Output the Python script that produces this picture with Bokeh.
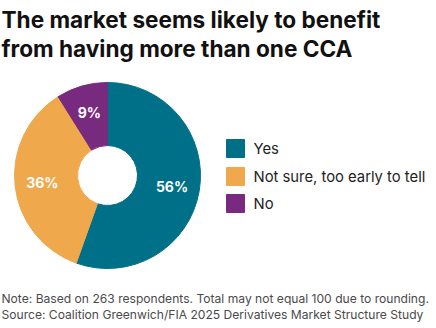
import numpy as np
from bokeh.plotting import figure
from bokeh.models import Range1d, ColumnDataSource
from bokeh.core.properties import value
from bokeh.embed import file_html
from bokeh.resources import INLINE

categories = ["Yes", "Not sure, too early to tell", "No"]
shares = [56, 36, 9]
colors = ["#006f88", "#f0a84c", "#782a7e"]
title_lines = ["The market seems likely to benefit", "from having more than one CCA"]
notes = ["Note: Based on 263 respondents. Total may not equal 100 due to rounding.",
         "Source: Coalition Greenwich/FIA 2025 Derivatives Market Structure Study"]

W, H = 436, 328
FONT = "Inter"

p = figure(width=W, height=H, output_backend="svg", toolbar_location=None,
           x_range=Range1d(0, W), y_range=Range1d(0, H), min_border=0,
           outline_line_color=None, background_fill_color="white")
p.axis.visible = False
p.grid.visible = False

cx, cy = 107, H - 175
r_out, r_in = 93, 30
vals = np.array(shares, dtype=float)
frac = vals / vals.sum()
cum = np.concatenate([[0], np.cumsum(frac)])
start = np.pi / 2 - cum[1:] * 2 * np.pi
end = np.pi / 2 - cum[:-1] * 2 * np.pi
mid = (start + end) / 2
lr = (r_out + r_in) / 2 + 4
src = ColumnDataSource(dict(start=start, end=end, color=colors,
                            lx=cx + lr * np.cos(mid), ly=cy + lr * np.sin(mid),
                            lab=[f"{v}%" for v in shares]))
p.annular_wedge(x=cx, y=cy, inner_radius=r_in, outer_radius=r_out,
                start_angle="start", end_angle="end", color="color",
                line_color="color", source=src)
p.text(x="lx", y="ly", text="lab", source=src, text_color="white",
       text_font=value(FONT), text_font_style="bold", text_font_size="14px",
       text_align="center", text_baseline="middle")

# legend
ly = [H - 148, H - 176, H - 203]
lsrc = ColumnDataSource(dict(y=ly, color=colors, cat=categories))
p.rect(x=235, y="y", width=18, height=18, color="color", source=lsrc)
p.text(x=253, y="y", text="cat", source=lsrc, text_color="#222222",
       text_font=value(FONT), text_font_size="14.8px",
       text_align="left", text_baseline="middle")

# title
p.text(x=[1, 1], y=[H - 19, H - 48], text=title_lines, text_color="#111111",
       text_font=value(FONT), text_font_style="bold", text_font_size="22.6px",
       text_align="left", text_baseline="middle")

# notes
p.text(x=[1, 1], y=[H - 298, H - 314], text=notes, text_color="#4a4a4a",
       text_font=value(FONT), text_font_size="12.1px",
       text_align="left", text_baseline="middle")

open("out.html", "w").write(file_html(p, INLINE))
